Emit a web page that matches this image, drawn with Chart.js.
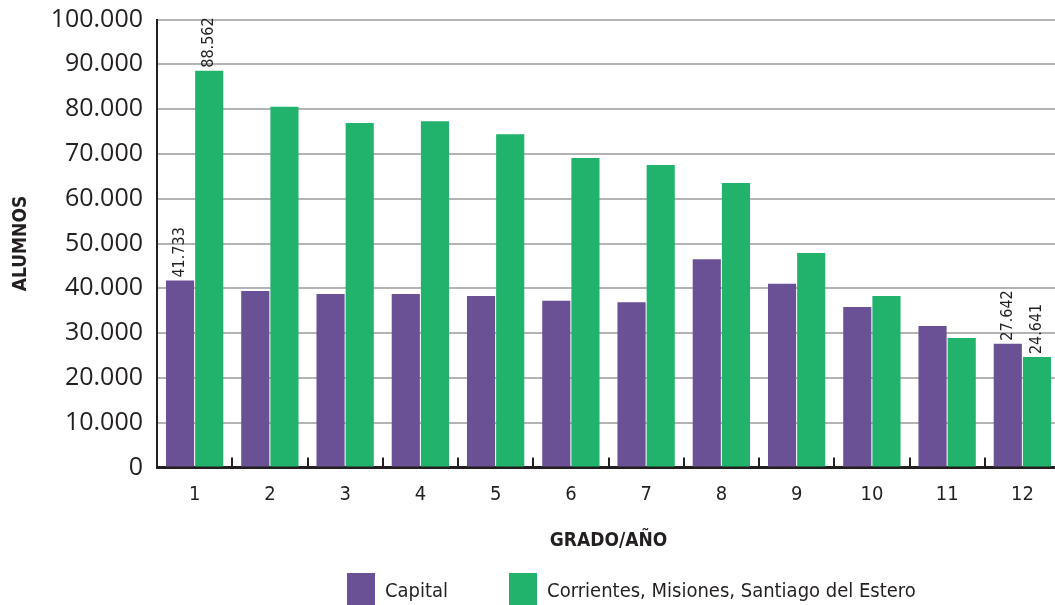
<!DOCTYPE html>
<html>
<head>
<meta charset="utf-8">
<script src="https://cdn.jsdelivr.net/npm/chart.js@4.4.1/dist/chart.umd.min.js"></script>
<style>
  html, body { margin: 0; padding: 0; background: #fff; overflow: hidden; }
  #wrap { position: relative; width: 1064px; height: 605px; }
  #legend {
    position: absolute; left: 347px; top: 573px;
    display: flex; align-items: flex-start;
    font-family: 'DejaVu Sans Condensed', sans-serif;
    font-size: 20px; color: #231f20;
  }
  #legend .item { display: flex; align-items: flex-start; margin-right: 61px; }
  #legend .box { width: 28px; height: 40px; margin-right: 10px; }
  #legend .txt { line-height: 34px; }
</style>
</head>
<body>
<div id="wrap">
  <canvas id="chart" width="1064" height="605"></canvas>
  <div id="legend"></div>
</div>
<script>
const grados = ["1", "2", "3", "4", "5", "6", "7", "8", "9", "10", "11", "12"];
const capital = [41733, 39400, 38700, 38700, 38300, 37200, 36900, 46500, 41000, 35800, 31600, 27642];
const corrientes = [88562, 80500, 76900, 77300, 74400, 69100, 67500, 63500, 47900, 38300, 28900, 24641];
const seriesNames = ["Capital", "Corrientes, Misiones, Santiago del Estero"];
const yMax = 100000;
const yStep = 10000;
const labeledBars = [0, 11];

const INK = "#231f20";
const NARROW = "'DejaVu Sans Condensed', sans-serif";

// miles con punto: 41733 -> "41.733"
function fmt(v) {
  return String(Math.round(v)).replace(/\B(?=(\d{3})+(?!\d))/g, ".");
}

// marquitas entre grados, hacia arriba desde el eje
const categoryTicks = {
  id: "categoryTicks",
  afterDraw(chart) {
    const x = chart.scales.x;
    const base = chart.scales.y.getPixelForValue(0);
    const ctx = chart.ctx;
    ctx.save();
    ctx.strokeStyle = INK;
    ctx.lineWidth = 2;
    for (let i = 1; i < grados.length; i++) {
      const px = Math.round((x.getPixelForValue(i - 1) + x.getPixelForValue(i)) / 2);
      ctx.beginPath();
      ctx.moveTo(px, base);
      ctx.lineTo(px, base - 10);
      ctx.stroke();
    }
    ctx.restore();
  },
};

// valores rotados sobre las barras del primer y último grado
const barValues = {
  id: "barValues",
  afterDatasetsDraw(chart) {
    const ctx = chart.ctx;
    ctx.save();
    ctx.fillStyle = INK;
    ctx.font = "16px " + NARROW;
    ctx.textAlign = "left";
    ctx.textBaseline = "middle";
    chart.data.datasets.forEach((ds, d) => {
      const meta = chart.getDatasetMeta(d);
      labeledBars.forEach((i) => {
        const bar = meta.data[i];
        ctx.save();
        ctx.translate(bar.x, bar.y - 3);
        ctx.rotate(-Math.PI / 2);
        ctx.fillText(fmt(ds.data[i]), 0, 0);
        ctx.restore();
      });
    });
    ctx.restore();
  },
};

const htmlLegend = {
  id: "htmlLegend",
  afterUpdate(chart) {
    const box = document.getElementById("legend");
    box.innerHTML = "";
    chart.data.datasets.forEach((ds) => {
      const item = document.createElement("div");
      item.className = "item";
      const sw = document.createElement("span");
      sw.className = "box";
      sw.style.background = ds.backgroundColor;
      const t = document.createElement("span");
      t.className = "txt";
      t.textContent = ds.label;
      item.appendChild(sw);
      item.appendChild(t);
      box.appendChild(item);
    });
  },
};

const ctx = document.getElementById("chart").getContext("2d");
new Chart(ctx, {
  type: "bar",
  data: {
    labels: grados,
    datasets: [
      { label: seriesNames[0], data: capital, backgroundColor: "#6a5094" },
      { label: seriesNames[1], data: corrientes, backgroundColor: "#21b26b" },
    ],
  },
  options: {
    responsive: false,
    animation: false,
    categoryPercentage: 0.775,
    barPercentage: 0.965,
    layout: { padding: { top: 19.5, right: 4, bottom: 0, left: 0 } },
    plugins: {
      legend: { display: false },
      tooltip: { enabled: false },
    },
    scales: {
      x: {
        grid: { display: false, drawTicks: false },
        border: { color: INK, width: 3 },
        ticks: { color: INK, padding: 15, font: { family: NARROW, size: 20 } },
        title: {
          display: true,
          text: "GRADO/AÑO",
          color: INK,
          font: { family: NARROW, size: 19, weight: "bold" },
          padding: { top: 0, bottom: 53 },
        },
        afterFit: (s) => { s.height = 137.5; },
      },
      y: {
        min: 0,
        max: yMax,
        ticks: {
          stepSize: yStep,
          color: INK,
          padding: 14,
          font: { family: "'Open Sans', sans-serif", size: 25 },
          callback: (v) => fmt(v),
        },
        grid: { color: "#b3b3b3", lineWidth: 2, drawTicks: false },
        border: { color: INK, width: 2 },
        title: {
          display: true,
          text: "ALUMNOS",
          color: INK,
          font: { family: NARROW, size: 19, weight: "bold" },
          padding: { top: 10, bottom: 0 },
        },
        afterFit: (s) => {
          s.width = 157;
          s.paddingTop = 0;
          s.paddingBottom = 0;
        },
      },
    },
  },
  plugins: [categoryTicks, barValues, htmlLegend],
});
</script>
</body>
</html>
